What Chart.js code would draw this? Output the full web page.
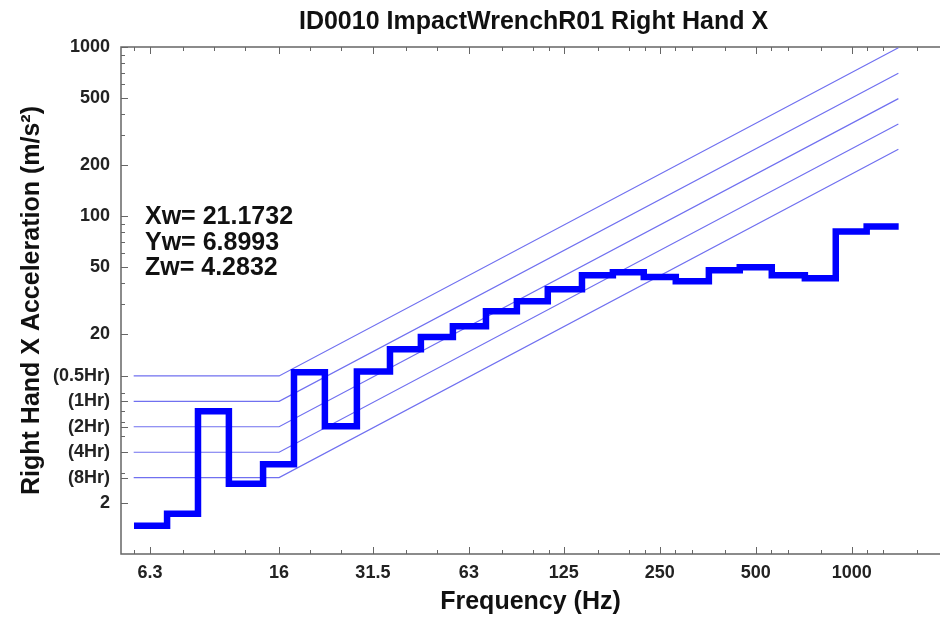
<!DOCTYPE html>
<html>
<head>
<meta charset="utf-8">
<script src="https://cdn.jsdelivr.net/npm/chart.js@4"></script>
<style>
  body { margin: 0; background: #fff; }
</style>
</head>
<body>
<canvas id="chart" width="940" height="619"></canvas>
<script>
// 1/3 octave band centres (Hz) and measured acceleration (m/s^2)
const bandCenters = [6.3, 8, 10, 12.5, 16, 20, 25, 31.5, 40, 50, 63, 80, 100, 125, 160, 200, 250, 315, 400, 500, 630, 800, 1000, 1250];
const accel = [1.47, 1.73, 7.0, 2.6, 3.4, 11.9, 5.7, 12.0, 16.3, 19.2, 22.3, 27.3, 31.3, 36.8, 44.6, 46.4, 43.5, 41.1, 47.7, 49.7, 44.6, 42.8, 81, 86.7];

// exposure limit curves: flat up to 16 Hz, then rising with frequency
const limitNames = ["(0.5Hr)", "(1Hr)", "(2Hr)", "(4Hr)", "(8Hr)"];
const limitFreqs = [5.6, 16, 1400];
const limitFlat = [11.31, 8, 5.66, 4, 2.83];
const limitEnd = [990, 700, 495, 350, 248];

const xTicks = [6.3, 16, 31.5, 63, 125, 250, 500, 1000];
const xMinorTicks = [5.6, 8, 10, 12.5, 20, 25, 40, 50, 80, 100, 112, 160, 200, 224, 280, 315, 400, 560, 630, 800, 1120, 1250, 1600];
const yTicks = [1000, 500, 200, 100, 50, 20, 11.31, 8, 5.66, 4, 2.83, 2];
const yTickLabels = ["1000", "500", "200", "100", "50", "20", "(0.5Hr)", "(1Hr)", "(2Hr)", "(4Hr)", "(8Hr)", "2"];

const chartTitle = "ID0010 ImpactWrenchR01 Right Hand X";
const weighted = ["Xw= 21.1732", "Yw= 6.8993", "Zw= 4.2832"];

const FONT = "'Liberation Sans', Arial, Helvetica, sans-serif";

// step outline: each band drawn from its lower to its upper edge
const third = Math.pow(2, 1 / 6);
const stepPoints = bandCenters.map((f, i) => ({ x: f / third, y: accel[i] }));
stepPoints.push({ x: bandCenters[bandCenters.length - 1] * third, y: accel[accel.length - 1] });

const limitSets = limitFlat.map((v, i) => ({
  label: limitNames[i],
  data: [
    { x: limitFreqs[0], y: v },
    { x: limitFreqs[1], y: v },
    { x: limitFreqs[2], y: limitEnd[i] }
  ],
  borderColor: "#7070f0",
  borderWidth: 1.2,
  pointRadius: 0,
  fill: false
}));

// frame with inward tick marks on left, top and bottom
const framePlugin = {
  id: "frame",
  beforeDatasetsDraw(chart) {
    const { ctx, chartArea: a, scales: { x, y } } = chart;
    ctx.save();
    ctx.strokeStyle = "#666";
    ctx.lineWidth = 1.5;
    ctx.beginPath();
    ctx.moveTo(a.right, a.top);
    ctx.lineTo(a.left, a.top);
    ctx.lineTo(a.left, a.bottom);
    ctx.lineTo(a.right, a.bottom);
    ctx.stroke();

    ctx.lineWidth = 1;
    ctx.beginPath();
    const yMinor = [];
    for (let d = 1; d < 1000; d *= 10) {
      for (let m = 2; m < 10; m++) yMinor.push(d * m);
    }
    yMinor.forEach(v => {
      const py = Math.round(y.getPixelForValue(v)) + 0.5;
      ctx.moveTo(a.left, py); ctx.lineTo(a.left + 4, py);
    });
    yTicks.forEach(v => {
      const py = Math.round(y.getPixelForValue(v)) + 0.5;
      ctx.moveTo(a.left, py); ctx.lineTo(a.left + 7, py);
    });
    xMinorTicks.forEach(v => {
      const px = Math.round(x.getPixelForValue(v)) + 0.5;
      ctx.moveTo(px, a.top); ctx.lineTo(px, a.top + 4);
      ctx.moveTo(px, a.bottom); ctx.lineTo(px, a.bottom - 4);
    });
    xTicks.forEach(v => {
      const px = Math.round(x.getPixelForValue(v)) + 0.5;
      ctx.moveTo(px, a.top); ctx.lineTo(px, a.top + 7);
      ctx.moveTo(px, a.bottom); ctx.lineTo(px, a.bottom - 7);
    });
    ctx.stroke();
    ctx.restore();
  },
  afterDraw(chart) {
    const { ctx, chartArea: a } = chart;
    ctx.save();
    ctx.fillStyle = "#111";
    ctx.font = "bold 25px " + FONT;
    ctx.textAlign = "center";
    ctx.textBaseline = "middle";
    ctx.fillText(chartTitle, (a.left + a.right) / 2 + 3, 22);

    ctx.textAlign = "left";
    ctx.textBaseline = "alphabetic";
    weighted.forEach((t, i) => ctx.fillText(t, 145, 224 + i * 25.5));
    ctx.restore();
  }
};

new Chart(document.getElementById("chart"), {
  type: "line",
  data: {
    datasets: [
      {
        label: "Right Hand X",
        data: stepPoints,
        stepped: "before",
        borderColor: "#0000ff",
        borderWidth: 6.5,
        borderJoinStyle: "miter",
        pointRadius: 0,
        fill: false
      },
      ...limitSets
    ]
  },
  options: {
    responsive: false,
    animation: false,
    devicePixelRatio: 1,
    layout: { padding: { top: 47, left: 0, right: 0, bottom: 0 } },
    plugins: {
      legend: { display: false },
      tooltip: { enabled: false },
      title: { display: false }
    },
    scales: {
      x: {
        type: "logarithmic",
        min: 5.11,
        max: 1891,
        afterFit: s => { s.height = 65; },
        afterBuildTicks: s => { s.ticks = xTicks.map(v => ({ value: v })); },
        grid: { display: false, drawTicks: false },
        border: { display: false },
        ticks: {
          autoSkip: false,
          maxRotation: 0,
          padding: 8,
          color: "#222",
          font: { family: FONT, size: 18, weight: "bold" },
          callback: v => String(v)
        },
        title: {
          display: true,
          text: "Frequency (Hz)",
          color: "#111",
          font: { family: FONT, size: 25, weight: "bold" },
          padding: { top: 0, bottom: 2 }
        }
      },
      y: {
        type: "logarithmic",
        min: 1,
        max: 1000,
        afterFit: s => { s.width = 121; },
        afterBuildTicks: s => { s.ticks = yTicks.map(v => ({ value: v })); },
        grid: { display: false, drawTicks: false },
        border: { display: false },
        ticks: {
          autoSkip: false,
          padding: 11,
          color: "#222",
          font: { family: FONT, size: 18, weight: "bold" },
          callback: v => yTickLabels[yTicks.indexOf(v)]
        },
        title: {
          display: true,
          text: "Right Hand X Acceleration (m/s²)",
          color: "#111",
          font: { family: FONT, size: 25, weight: "bold" },
          padding: { top: 17, bottom: 0 }
        }
      }
    }
  },
  plugins: [framePlugin]
});
</script>
</body>
</html>
